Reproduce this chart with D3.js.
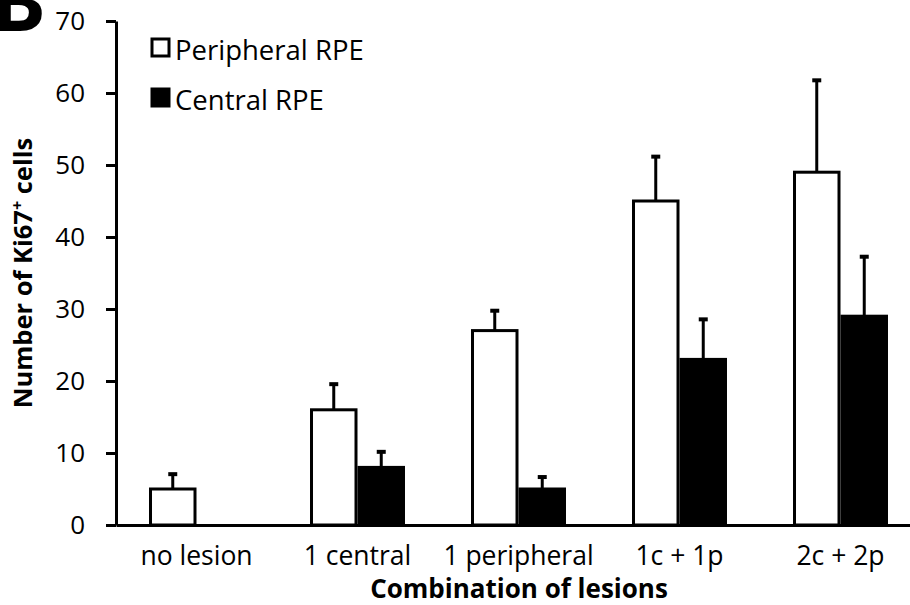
<!DOCTYPE html>
<html>
<head>
<meta charset="utf-8">
<script src="https://cdn.jsdelivr.net/npm/d3@7"></script>
<style>
  body { margin: 0; background: #fff; }
  svg { display: block; font-family: "Open Sans", sans-serif; }
</style>
</head>
<body>
<svg id="chart" width="910" height="605"></svg>
<script>
const categories = ["no lesion", "1 central", "1 peripheral", "1c + 1p", "2c + 2p"];
const peripheral = [5, 16, 27, 45, 49];
const peripheralErr = [2.2, 3.7, 2.9, 6.3, 12.9];
const central = [0, 8, 5, 23, 29];
const centralErr = [0, 2.3, 1.8, 5.7, 8.4];
const yTicks = [0, 10, 20, 30, 40, 50, 60, 70];
const seriesNames = ["Peripheral RPE", "Central RPE"];

const svg = d3.select("#chart");
const padding = { top: 21, left: 116, bottom: 80 };
const plotBottom = 525;

const yScale = d3.scaleLinear().domain([0, 70]).range([plotBottom, padding.top]);

const xScale = d3
  .scaleBand()
  .domain(categories)
  .range([padding.left, 921])
  .paddingInner(0.41)
  .paddingOuter(0.205);

const subScale = d3
  .scaleBand()
  .domain(seriesNames)
  .range([0, xScale.bandwidth()]);

// build rows from the arrays
const rows = [];
categories.forEach((c, i) => {
  rows.push({ cat: c, series: seriesNames[0], value: peripheral[i], err: peripheralErr[i], fill: "#fff" });
  rows.push({ cat: c, series: seriesNames[1], value: central[i], err: centralErr[i], fill: "#000" });
});
const shown = rows.filter((d) => d.value > 0);
const midX = (d) => xScale(d.cat) + subScale(d.series) + subScale.bandwidth() / 2;

// bars
svg
  .append("g")
  .selectAll("rect")
  .data(shown)
  .join("rect")
  .attr("x", (d) => xScale(d.cat) + subScale(d.series) + 1.5)
  .attr("y", (d) => yScale(d.value))
  .attr("width", subScale.bandwidth() - 3)
  .attr("height", (d) => plotBottom - yScale(d.value))
  .attr("fill", (d) => d.fill)
  .attr("stroke", "#000")
  .attr("stroke-width", 3);

// error bars (upper only)
const errs = svg.append("g");
errs
  .selectAll("line.stem")
  .data(shown)
  .join("line")
  .classed("stem", true)
  .attr("x1", midX)
  .attr("x2", midX)
  .attr("y1", (d) => yScale(d.value))
  .attr("y2", (d) => yScale(d.value + d.err))
  .attr("stroke", "#000")
  .attr("stroke-width", 3);
errs
  .selectAll("line.cap")
  .data(shown)
  .join("line")
  .classed("cap", true)
  .attr("x1", (d) => midX(d) - 4.5)
  .attr("x2", (d) => midX(d) + 4.5)
  .attr("y1", (d) => yScale(d.value + d.err) + 1)
  .attr("y2", (d) => yScale(d.value + d.err) + 1)
  .attr("stroke", "#000")
  .attr("stroke-width", 4);

// y axis
const yAxis = svg
  .append("g")
  .attr("transform", `translate(${padding.left},0)`)
  .call(d3.axisLeft(yScale).tickValues(yTicks).tickSize(10).tickSizeOuter(0).tickPadding(21));
yAxis.selectAll("path, line").attr("stroke", "#000").attr("stroke-width", 3);
yAxis.selectAll("text").attr("font-size", 26).attr("fill", "#000").attr("font-family", "Open Sans");

// x axis
const xAxis = svg
  .append("g")
  .attr("transform", `translate(0,${plotBottom})`)
  .call(d3.axisBottom(xScale).tickSize(0).tickPadding(21));
xAxis.select("path").attr("stroke", "#000").attr("stroke-width", 3);
xAxis.selectAll("text").attr("font-size", 26.5).attr("fill", "#000").attr("font-family", "Open Sans");

// axis titles
svg
  .append("text")
  .attr("x", 519)
  .attr("y", 598)
  .attr("text-anchor", "middle")
  .attr("font-size", 26)
  .attr("font-weight", "bold")
  .text("Combination of lesions");

const yTitle = svg
  .append("text")
  .attr("transform", `translate(32,${(plotBottom + padding.top) / 2}) rotate(-90)`)
  .attr("text-anchor", "middle")
  .attr("font-size", 25.5)
  .attr("font-weight", "bold");
yTitle.append("tspan").text("Number of Ki67");
yTitle.append("tspan").attr("font-size", 16).attr("dy", -9).text("+");
yTitle.append("tspan").attr("dy", 9).text(" cells");

// legend
const legend = svg.append("g");
seriesNames.forEach((name, i) => {
  const y = 39 + i * 50;
  legend
    .append("rect")
    .attr("x", 152)
    .attr("y", y)
    .attr("width", 17)
    .attr("height", 17)
    .attr("fill", i === 0 ? "#fff" : "#000")
    .attr("stroke", "#000")
    .attr("stroke-width", 3);
  legend
    .append("text")
    .attr("x", 175)
    .attr("y", y + 21)
    .attr("font-size", 27.5)
    .text(name);
});

// panel letter (cut off at the corner, as in the original figure)
svg
  .append("text")
  .attr("x", 46)
  .attr("y", 31)
  .attr("text-anchor", "end")
  .attr("font-size", 82)
  .attr("font-weight", "bold")
  .text("B");
</script>
</body>
</html>
